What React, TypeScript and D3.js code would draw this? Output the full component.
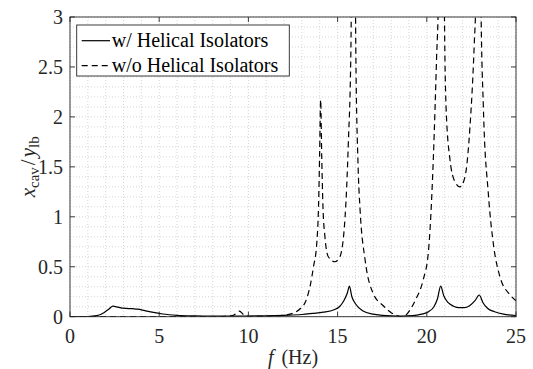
import React from "react";
import * as d3 from "d3";

// frequency (Hz) and normalised response, w/ helical isolators
const withFreq = [
  0, 1, 1.5, 1.9, 2.2, 2.4, 2.7, 3.0, 3.5, 3.8, 4.2, 4.6, 5.2, 6.0, 7.0, 8.0, 9.0, 10, 11, 12, 13,
  13.6, 14.2, 14.8, 15.1, 15.35, 15.55, 15.66, 15.8, 16.0, 16.4, 17.0, 17.5, 18.0, 18.6, 19.2,
  19.7, 20.1, 20.4, 20.6, 20.78, 20.95, 21.2, 21.5, 21.8, 22.1, 22.4, 22.7, 22.94, 23.15, 23.4,
  23.8, 24.3, 25,
];
const withVal = [
  0, 0.002, 0.01, 0.04, 0.08, 0.105, 0.095, 0.085, 0.08, 0.076, 0.06, 0.045, 0.027, 0.014, 0.008,
  0.006, 0.006, 0.007, 0.009, 0.014, 0.022, 0.033, 0.045, 0.07, 0.1, 0.16, 0.24, 0.307, 0.2, 0.13,
  0.06, 0.025, 0.014, 0.008, 0.006, 0.01, 0.025, 0.05, 0.1, 0.18, 0.307, 0.21, 0.14, 0.105, 0.09,
  0.09, 0.11, 0.16, 0.217, 0.14, 0.085, 0.05, 0.025, 0.012,
];

// w/o helical isolators
const withoutFreq = [
  0, 5, 8.5, 9.1, 9.3, 9.5, 9.7, 9.85, 10.5, 11.5, 12.0, 12.5, 12.9, 13.2, 13.45, 13.65, 13.83,
  13.93, 13.99, 14.05, 14.11, 14.18, 14.29, 14.48, 14.85, 15.13, 15.42, 15.6, 15.75, 15.89, 16.02,
  16.15, 16.26, 16.54, 17.0, 17.56, 18.0, 18.35, 18.6, 18.85, 19.1, 19.4, 19.8, 20.09, 20.37,
  20.55, 20.65, 20.81, 20.98, 21.08, 21.3, 21.58, 21.86, 22.14, 22.42, 22.66, 22.75, 22.89, 23.04,
  23.17, 23.45, 23.73, 24.1, 24.66, 25,
];
const withoutVal = [
  0, 0, 0.002, 0.01, 0.03, 0.055, 0.025, 0.005, 0.004, 0.008, 0.015, 0.035, 0.08, 0.15, 0.3, 0.5,
  0.73, 1.1, 1.6, 2.17, 1.6, 1.1, 0.8, 0.6, 0.55, 0.6, 1.0, 1.73, 2.73, 8, 2.7, 1.5, 1.07, 0.57,
  0.23, 0.11, 0.04, 0.01, 0.0, 0.02, 0.08, 0.18, 0.37, 0.65, 1.6, 2.6, 3.2, 10, 3.2, 2.1, 1.57,
  1.35, 1.3, 1.4, 1.9, 2.73, 3.2, 8, 3.1, 2.1, 1.23, 0.73, 0.4, 0.22, 0.16,
];

const xTicks = [0, 5, 10, 15, 20, 25];
const yTicks = [0, 0.5, 1, 1.5, 2, 2.5, 3];
const legendLabels = ["w/ Helical Isolators", "w/o Helical Isolators"];

const W = 533;
const H = 369;
const left = 70;
const right = 516;
const top = 17;
const bottom = 316.7;
const FONT = "Times New Roman";

export default function App() {
  const x = d3.scaleLinear().domain([0, 25]).range([left, right]);
  const y = d3.scaleLinear().domain([0, 3]).range([bottom, top]);

  const line = d3
    .line<[number, number]>()
    .x((d) => x(d[0]))
    .y((d) => y(d[1]))
    .curve(d3.curveMonotoneX);

  const withPath = line(withFreq.map((f, i) => [f, withVal[i]]));
  const withoutPath = line(withoutFreq.map((f, i) => [f, withoutVal[i]]));

  // minor grid: every 1 Hz and every 0.1
  const xMinor = d3.range(0, 26, 1);
  const yMinor = d3.range(0, 31, 1).map((v) => v / 10);

  const axisColor = "#262626";
  const tick = 5;

  return (
    <div style={{ fontFamily: FONT, position: "absolute", left: 0, top: 0 }}>
      <svg width={W} height={H} style={{ display: "block", fontFamily: FONT }}>
        <defs>
          <clipPath id="plot">
            <rect x={left} y={top} width={right - left} height={bottom - top} />
          </clipPath>
        </defs>
        <rect x={0} y={0} width={W} height={H} fill="#fff" />

        {/* grid */}
        <g stroke="#c4c4c4" strokeWidth={0.7} strokeDasharray="1,2">
          {xMinor.map((v) => (
            <line key={"gx" + v} x1={x(v)} x2={x(v)} y1={top} y2={bottom} />
          ))}
          {yMinor.map((v) => (
            <line key={"gy" + v} x1={left} x2={right} y1={y(v)} y2={y(v)} />
          ))}
        </g>

        {/* curves */}
        <g clipPath="url(#plot)" fill="none" stroke="#000" strokeWidth={1.2}>
          <path d={withoutPath ?? ""} strokeDasharray="6,4" />
          <path d={withPath ?? ""} />
        </g>

        {/* box and ticks */}
        <rect
          x={left}
          y={top}
          width={right - left}
          height={bottom - top}
          fill="none"
          stroke={axisColor}
          strokeWidth={0.9}
        />
        <g stroke={axisColor} strokeWidth={0.9}>
          {xTicks.map((v) => (
            <g key={"xt" + v}>
              <line x1={x(v)} x2={x(v)} y1={bottom} y2={bottom - tick} />
              <line x1={x(v)} x2={x(v)} y1={top} y2={top + tick} />
            </g>
          ))}
          {yTicks.map((v) => (
            <g key={"yt" + v}>
              <line x1={left} x2={left + tick} y1={y(v)} y2={y(v)} />
              <line x1={right} x2={right - tick} y1={y(v)} y2={y(v)} />
            </g>
          ))}
        </g>

        {/* tick labels */}
        {xTicks.map((v) => (
          <text
            key={"xl" + v}
            x={x(v)}
            y={343}
            textAnchor="middle"
            fontSize={20}
            fill="#262626"
            style={{ fontFamily: FONT }}
          >
            {String(v)}
          </text>
        ))}
        {yTicks.map((v) => (
          <text
            key={"yl" + v}
            x={63}
            y={y(v) + 7}
            textAnchor="end"
            fontSize={20}
            fill="#262626"
            style={{ fontFamily: FONT }}
          >
            {String(v)}
          </text>
        ))}

        {/* axis labels */}
        <text
          x={(left + right) / 2}
          y={364}
          textAnchor="middle"
          fontSize={20}
          fill="#262626"
          style={{ fontFamily: FONT }}
        >
          <tspan fontStyle="italic">f</tspan>
          <tspan dx={8}>(Hz)</tspan>
        </text>
        <text
          transform={`translate(35,${(top + bottom) / 2}) rotate(-90)`}
          textAnchor="middle"
          fontSize={21}
          fill="#262626"
          style={{ fontFamily: FONT }}
        >
          <tspan fontStyle="italic">x</tspan>
          <tspan fontSize={15} dy={4}>cav</tspan>
          <tspan dy={-4} dx={2}>/</tspan>
          <tspan fontStyle="italic" dx={2}>y</tspan>
          <tspan fontSize={15} dy={4}>lb</tspan>
        </text>

        {/* legend */}
        <rect
          x={76.7}
          y={25}
          width={212.6}
          height={51}
          fill="#fff"
          stroke={axisColor}
          strokeWidth={0.9}
        />
        <line x1={81.7} x2={110} y1={40.7} y2={40.7} stroke="#000" strokeWidth={1.2} />
        <line
          x1={81.7}
          x2={110}
          y1={65.7}
          y2={65.7}
          stroke="#000"
          strokeWidth={1.2}
          strokeDasharray="6,4"
        />
        {legendLabels.map((t, i) => (
          <text
            key={t}
            x={111.7}
            y={46.7 + i * 25}
            fontSize={20}
            fill="#000"
            style={{ fontFamily: FONT }}
          >
            {t}
          </text>
        ))}
      </svg>
    </div>
  );
}
